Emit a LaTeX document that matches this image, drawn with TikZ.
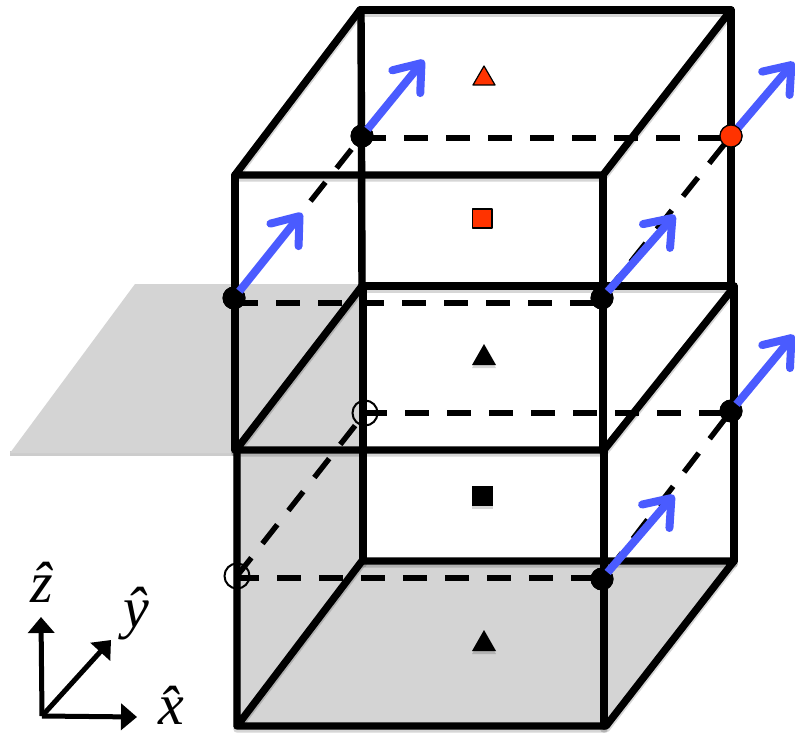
\documentclass[tikz,border=0pt]{standalone}
\usepackage{fontspec}
\setmainfont{Liberation Serif}
\usetikzlibrary{arrows.meta}
\definecolor{planegray}{HTML}{D4D4D4}
\definecolor{spinblue}{HTML}{4A5BFF}
\definecolor{sitered}{HTML}{FF3300}
\tikzset{
  edgeline/.style={line width=7.4pt,line cap=round,line join=round},
  dashrow/.style={line width=6pt,dash pattern=on 24pt off 18pt},
  dashdiag/.style={line width=5.4pt,dash pattern=on 24pt off 18pt},
  spin/.style={draw=spinblue,line width=8pt,-{Straight Barb[length=24pt,width=36pt,line width=8pt,line cap=round,round]},shorten <=-3pt},
  fulldot/.style={circle,fill=black,inner sep=0pt,minimum size=23pt},
  reddot/.style={circle,fill=sitered,draw=black,line width=1.2pt,inner sep=0pt,minimum size=22pt},
  opendot/.style={circle,draw=black,line width=2pt,inner sep=0pt,minimum size=25pt},
  axisline/.style={line width=5pt,-{Triangle[length=16pt,width=26pt]}},
  label/.style={inner sep=0pt,font=\fontsize{58}{58}\selectfont\itshape},
  shadowlayer/.style={opacity=.16,shift={(0,3)}}
}
\newcommand{\frameedges}{%
  \draw[edgeline] (360,10) -- (731,10) -- (731,287);
  \draw[edgeline] (360,10) -- (235,175) -- (603,175) -- (731,10);
  \draw[edgeline] (361,10) -- (362,287);
  \draw[edgeline] (235,175) -- (235,450);
  \draw[edgeline] (603,175) -- (603,450);
  \draw[edgeline] (362,286) -- (734,286) -- (734,561);
  \draw[edgeline] (362,286) -- (236,450) -- (604,450) -- (734,287);
  \draw[edgeline] (363,286) -- (363,561);
  \draw[edgeline] (237,450) -- (237,726) -- (606,726) -- (734,561) -- (362,561) -- (237,726);
  \draw[edgeline] (604,450) -- (604,726);
  \fill (484,344) -- (496,365) -- (472,365) -- cycle;
  \fill (472,486) rectangle (493,506);
  \fill (484,630) -- (496,651) -- (472,651) -- cycle;
}
\begin{document}
\begin{tikzpicture}[x=1pt,y=-1pt]
\useasboundingbox (0,0) rectangle (795,733);
\fill[white] (0,0) rectangle (795,733);
% grey plane and shaded faces
\fill[black,opacity=.2] (10,456) -- (237,456) -- (237,451) -- (10,451) -- cycle;
\fill[planegray] (135,284) -- (362,284) -- (362,561) -- (237,726) -- (237,453) -- (10,453) -- cycle;
\fill[planegray] (237,726) -- (606,726) -- (734,561) -- (362,561) -- cycle;
% soft shadow, then the lattice
\begin{scope}[shadowlayer]\frameedges\end{scope}
\frameedges
% sites
\node[fulldot] (a) at (362,136) {};
\node[reddot] (b) at (731,136) {};
\node[fulldot] (c) at (234,298) {};
\node[fulldot] (d) at (602,298) {};
\node[opendot] (e) at (365,413) {};
\node[fulldot] (f) at (731,411) {};
\node[opendot] (g) at (237,576) {};
\node[fulldot] (h) at (602,579) {};
% dashed bonds
\coordinate (a1) at (362,138); \coordinate (b1) at (731,138);
\coordinate (c1) at (234,303); \coordinate (d1) at (602,303);
\coordinate (e1) at (363,413); \coordinate (f1) at (731,413);
\coordinate (g1) at (235,578); \coordinate (h1) at (602,578);
\draw[dashrow] (a1) -- (b1);
\draw[dashrow] (c1) -- (d1);
\draw[dashrow] (e1) -- (f1);
\draw[dashrow] (g1) -- (h1);
\draw[dashdiag,dash phase=25pt] (a.center) -- (c.center);
\draw[dashdiag,dash phase=31pt] (b.center) -- (d.center);
\draw[dashdiag,dash phase=26pt] (e.center) -- (g.center);
\draw[dashdiag,dash phase=31pt] (f.center) -- (h.center);
% redraw the sites above the dashes
\node[fulldot] at (a) {};
\node[fulldot] at (c) {};
\node[fulldot] at (d) {};
\node[fulldot] at (f) {};
\node[fulldot] at (h) {};
% spins
\coordinate (ta) at (424,60);
\coordinate (tb) at (794,62);
\coordinate (tc) at (302,213);
\coordinate (td) at (675,215);
\coordinate (tf) at (794,335);
\coordinate (th) at (674,495);
\draw[spin] (a) -- (ta);
\draw[spin] (b) -- (tb);
\draw[spin] (c) -- (tc);
\draw[spin] (d) -- (td);
\draw[spin] (f) -- (tf);
\draw[spin] (h) -- (th);
\node[reddot] at (b) {};
% red markers
\filldraw[fill=sitered,draw=black,line width=1.2pt,line join=round] (484,66) -- (495,85) -- (473,85) -- cycle;
\filldraw[fill=sitered,draw=black,line width=1.2pt,line join=round] (472.5,209) rectangle (492,228);
% axes
\coordinate (o) at (42,716);
\coordinate (zt) at (41,617);
\coordinate (yt) at (111,640);
\coordinate (xt) at (137,717);
\draw[axisline] (o) -- (zt);
\draw[axisline] (o) -- (yt);
\draw[axisline] (o) -- (xt);
\node[label] (zl) at (42,582) {ẑ};
\node[label] (yl) at (136,614) {ŷ};
\node[label] (xl) at (171,705) {x̂};
\end{tikzpicture}
\end{document}
